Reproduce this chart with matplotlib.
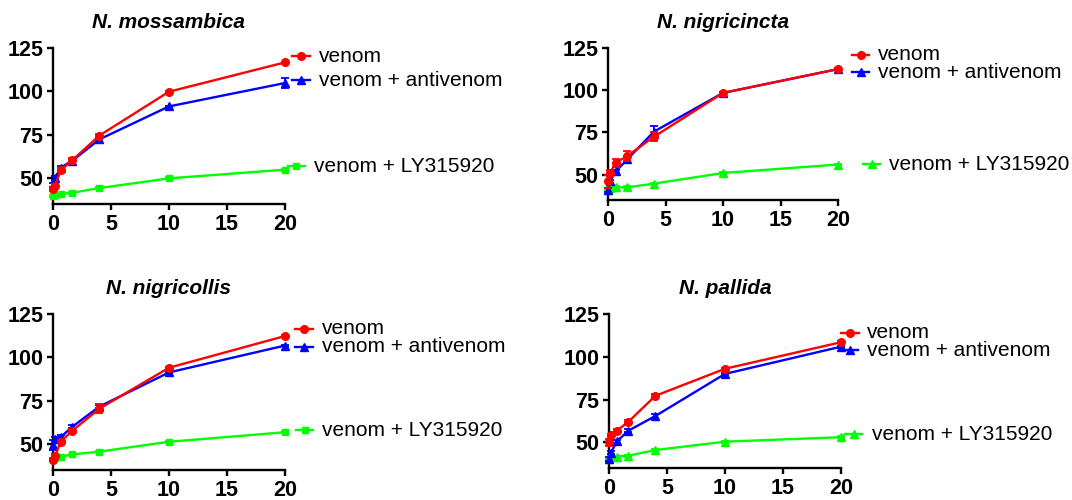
import matplotlib
matplotlib.use("Agg")
import matplotlib.pyplot as plt
from matplotlib.lines import Line2D

plt.rcParams['font.family'] = ['Liberation Sans', 'DejaVu Sans']

# ---------------- data ----------------
time_min = [0, 0.17, 0.67, 1.67, 4, 10, 20]

titles = ["N. mossambica", "N. nigricincta", "N. nigricollis", "N. pallida"]
series_labels = ["venom", "venom + antivenom", "venom + LY315920"]

moss_venom = [43.4, 45.5, 54.5, 60.3, 74.5, 99.8, 116.7]
moss_venom_err = [1, 1, 1, 1, 1, 0.5, 0.5]
moss_anti = [46, 50, 56, 60, 72.3, 91.3, 104.8]
moss_anti_err = [1, 1, 1, 1, 1, 0.5, 3]
moss_ly = [39.5, 40, 40.8, 41.5, 44.2, 49.8, 54.8]
moss_ly_err = [0.5, 0.5, 0.5, 0.5, 0.5, 0.5, 0.5]

nigc_venom = [46, 51, 57, 61, 72.5, 98.4, 112.5]
nigc_venom_err = [4, 1.5, 2.5, 3, 2.5, 0.5, 0.5]
nigc_anti = [41, 46, 52, 59, 75.5, 98.4, 112.5]
nigc_anti_err = [1, 1, 1, 1.5, 3.5, 0.5, 0.5]
nigc_ly = [41, 42, 42.5, 42.5, 44.7, 51, 56]
nigc_ly_err = [0.5, 0.5, 0.5, 0.5, 0.5, 0.5, 0.5]

nigl_venom = [41, 43, 51.4, 57.7, 70.4, 94, 112.3]
nigl_venom_err = [1, 1, 1, 1, 2.5, 0.5, 0.5]
nigl_anti = [49.5, 53, 54, 60, 71.6, 91.3, 106.8]
nigl_anti_err = [3, 1, 1, 1, 1, 0.5, 0.5]
nigl_ly = [41, 42, 42.7, 44, 45.6, 51.3, 56.8]
nigl_ly_err = [0.5, 0.5, 0.5, 0.5, 0.5, 0.5, 0.5]

pall_venom = [50, 54, 56.8, 62, 77.2, 93, 108.5]
pall_venom_err = [2, 1, 1, 1, 1, 0.5, 0.5]
pall_anti = [40.3, 44, 50.5, 56.8, 65.4, 90, 105.9]
pall_anti_err = [1, 1, 1, 1, 1, 0.5, 0.5]
pall_ly = [40.3, 41.5, 41.7, 42.2, 45.5, 50.4, 53]
pall_ly_err = [0.5, 0.5, 0.5, 0.5, 0.5, 0.5, 0.5]

x_ticks = [0, 5, 10, 15, 20]
y_ticks = [50, 75, 100, 125]

panels = [
    (moss_venom, moss_venom_err, moss_anti, moss_anti_err, moss_ly, moss_ly_err, 's'),
    (nigc_venom, nigc_venom_err, nigc_anti, nigc_anti_err, nigc_ly, nigc_ly_err, '^'),
    (nigl_venom, nigl_venom_err, nigl_anti, nigl_anti_err, nigl_ly, nigl_ly_err, 's'),
    (pall_venom, pall_venom_err, pall_anti, pall_anti_err, pall_ly, pall_ly_err, '^'),
]

# ---------------- layout (pixels) ----------------
W, H = 1072, 500
# (left, right, top, bottom) in pixels
axes_px = [(53, 285, 48, 204), (608, 838, 48, 200), (53, 285, 314, 470), (609, 841, 314, 468)]
# legend positions: (line_x0, line_x1, y, text_x) for each of the three entries
legend_px = [
    [(292, 310, 56, 319), (292, 310, 80, 319), (288, 305, 166, 314)],
    [(852, 869, 55, 878), (852, 869, 72, 878), (863, 880, 164, 889)],
    [(295, 313, 329, 322), (295, 313, 347, 322), (296, 313, 430, 322)],
    [(841, 859, 333, 867), (842, 858, 350, 867), (845, 862, 434, 872)],
]

colors = ['#ff0000', '#0000ff', '#00ff00']
FS_TICK = 15.5
FS_TITLE = 15
FS_LEG = 15

fig = plt.figure(figsize=(W / 100, H / 100), dpi=100)

def fx(px):
    return px / W

def fy(py):
    return 1 - py / H

for i, (ven, vene, ant, ante, ly, lye, lym) in enumerate(panels):
    l, r, t, b = axes_px[i]
    ax = fig.add_axes([fx(l), fy(b), (r - l) / W, (b - t) / H])
    markers = ['o', '^', lym]
    data = [(ly, lye, 2), (ant, ante, 1), (ven, vene, 0)]
    for vals, errs, ci in data:
        ax.errorbar(time_min, vals, yerr=errs, color=colors[ci], marker=markers[ci],
                    markersize=5.5 if markers[ci] != 's' else 5, linewidth=1.7,
                    elinewidth=1.3, capsize=3, capthick=1.3, clip_on=False, zorder=3 + (2 - ci))
    ax.set_xlim(0, 20)
    ax.set_ylim(35, 125)
    ax.set_xticks(x_ticks)
    ax.set_yticks(y_ticks)
    ax.spines['top'].set_visible(False)
    ax.spines['right'].set_visible(False)
    for s in ['left', 'bottom']:
        ax.spines[s].set_linewidth(1.7)
    ax.tick_params(axis='both', which='major', length=4, width=1.7, pad=3,
                   labelsize=FS_TICK)
    for lab in ax.get_xticklabels() + ax.get_yticklabels():
        lab.set_fontweight('bold')
    # title
    fig.text(fx((l + r) / 2), fy(t - 26), titles[i], ha='center', va='center',
             fontsize=FS_TITLE, fontweight='bold', fontstyle='italic')
    # legend entries
    for j, (x0, x1, yy, tx) in enumerate(legend_px[i]):
        m = markers[j]
        fig.add_artist(Line2D([fx(x0), fx(x1)], [fy(yy), fy(yy)], transform=fig.transFigure,
                              color=colors[j], linewidth=1.7))
        fig.add_artist(Line2D([fx((x0 + x1) / 2)], [fy(yy)], transform=fig.transFigure,
                              color=colors[j], marker=m, markersize=5.5 if m != 's' else 5,
                              linestyle='none'))
        fig.text(fx(tx), fy(yy), series_labels[j], ha='left', va='center', fontsize=FS_LEG)

fig.savefig("out.png", dpi=100)
